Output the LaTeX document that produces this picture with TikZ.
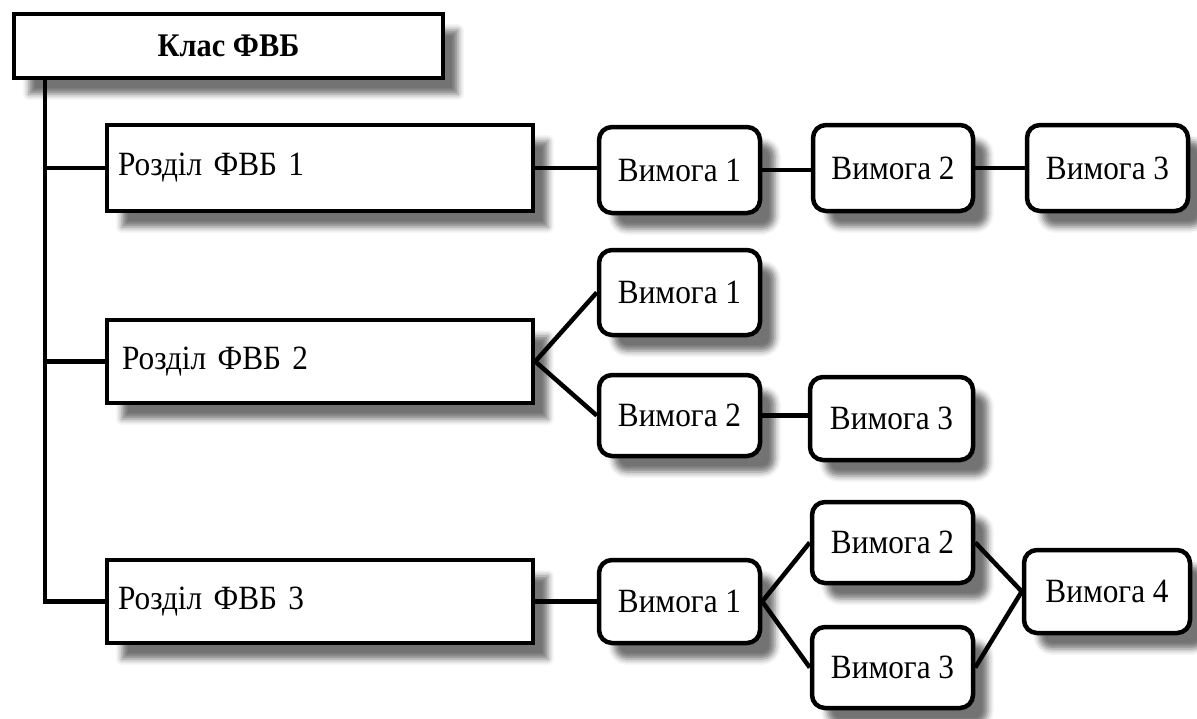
\documentclass[tikz,border=0pt]{standalone}
\usepackage{fontspec}
\setmainfont{Liberation Serif}[FakeStretch=0.92]
\usetikzlibrary{shadows.blur}
\begin{document}
\begin{tikzpicture}[x=1pt,y=-1pt,
  every node/.style={font=\fontsize{34}{38}\selectfont},
  shade/.style={blur shadow={shadow xshift=15pt, shadow yshift=-16pt,
      shadow blur radius=6pt, shadow opacity=55}},
  classbox/.style={draw, line width=4.5pt, fill=white, shade, inner sep=0pt,
      minimum width=429pt, minimum height=64pt, font=\fontsize{33}{38}\selectfont\bfseries},
  secbox/.style={draw, line width=4.5pt, fill=white, shade, inner xsep=11pt, inner ysep=0pt,
      text width=404pt, align=left, minimum height=84pt},
  reqbox/.style={draw, line width=4.5pt, fill=white, shade, rounded corners=13pt,
      inner sep=0pt, minimum width=161pt, minimum height=84pt},
  link/.style={line width=4.5pt}]
\useasboundingbox (0,0) rectangle (1197,718);

% class and its three sections
\node[classbox] (cls) at (228.5,46) {Клас ФВБ};
\node[secbox, minimum height=86pt] (s1) at (320,168) {Розділ ФВБ 1};
\node[secbox, minimum height=83pt] (s2) at (320,361.5) {\hspace*{4pt}Розділ ФВБ 2};
\node[secbox, minimum height=83pt] (s3) at (320,601.5) {Розділ ФВБ 3};

% requirements of section 1
\node[reqbox, minimum height=86pt] (a1) at (679.5,170) {Вимога 1};
\node[reqbox, minimum width=160pt, minimum height=86pt] (a2) at (893,168) {Вимога 2};
\node[reqbox, minimum height=86pt] (a3) at (1107.5,168) {Вимога 3};

% requirements of section 2
\node[reqbox, minimum height=85pt] (b1) at (679.5,292.5) {Вимога 1};
\node[reqbox, minimum height=81pt] (b2) at (679.5,415.5) {Вимога 2};
\node[reqbox, minimum width=163pt, minimum height=83pt] (b3) at (891.5,418.5) {Вимога 3};

% requirements of section 3
\node[reqbox, minimum height=83pt] (c1) at (679.5,601.5) {Вимога 1};
\node[reqbox, minimum height=81pt] (c2) at (892.5,542.5) {Вимога 2};
\node[reqbox, minimum height=81pt] (c3) at (892.5,667.5) {Вимога 3};
\node[reqbox, minimum width=166pt, minimum height=83pt] (c4) at (1107,591.5) {Вимога 4};

% tree spine
\coordinate (spine) at (45,0);
\draw[link] (spine |- cls.south) -- (spine |- s3.west) -- (s3.west);
\draw[link] (spine |- s1.west) -- (s1.west);
\draw[link] (spine |- s2.west) -- (s2.west);

% chains of requirements
\draw[link] (s1.east) -- (s1.east -| a1.west);
\draw[link] (a1.east) -- (a1.east -| a2.west);
\draw[link] (a2.east) -- (a3.west);
\draw[link] (s2.east) -- (b1.west);
\draw[link] (s2.east) -- (b2.west);
\draw[link] (b2.east) -- (b2.east -| b3.west);
\draw[link] (s3.east) -- (s3.east -| c1.west);
\draw[link] (c1.east) -- (c2.west);
\draw[link] (c1.east) -- (c3.west);
\draw[link] (c2.east) -- (c4.west);
\draw[link] (c3.east) -- (c4.west);
\end{tikzpicture}
\end{document}
